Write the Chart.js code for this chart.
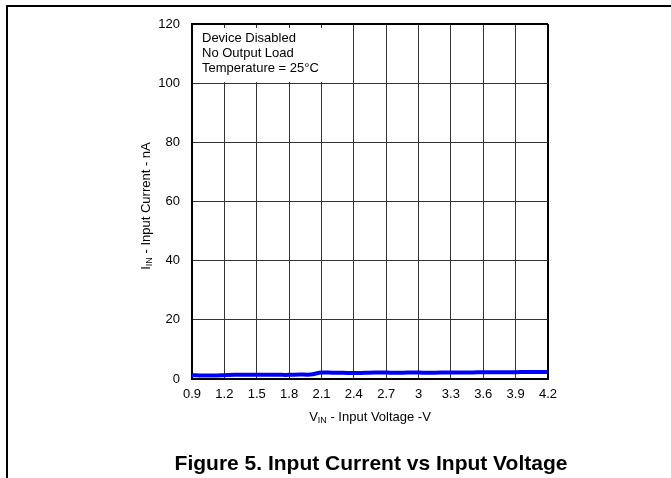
<!DOCTYPE html>
<html>
<head>
<meta charset="utf-8">
<script src="https://cdn.jsdelivr.net/npm/chart.js@4.4.1/dist/chart.umd.min.js"></script>
<style>
  html, body { margin: 0; padding: 0; background: #fff; }
  #wrap { position: relative; width: 671px; height: 478px; }
</style>
</head>
<body>
<div id="wrap"><canvas id="chart" width="671" height="478"></canvas></div>
<script>
// values
const voltage = [0.9, 1.0, 1.1, 1.2, 1.3, 1.4, 1.5, 1.6, 1.7, 1.8, 1.9, 2.0, 2.1, 2.2, 2.3, 2.4, 2.5, 2.6, 2.7, 2.8, 2.9, 3.0, 3.1, 3.2, 3.3, 3.4, 3.5, 3.6, 3.7, 3.8, 3.9, 4.0, 4.1, 4.2];
const current = [1.3, 1.2, 1.2, 1.3, 1.4, 1.4, 1.4, 1.4, 1.4, 1.4, 1.5, 1.5, 2.2, 2.1, 2.1, 2.0, 2.1, 2.2, 2.2, 2.1, 2.2, 2.2, 2.1, 2.2, 2.2, 2.2, 2.2, 2.3, 2.3, 2.3, 2.3, 2.4, 2.4, 2.4];
const xTicks = [0.9, 1.2, 1.5, 1.8, 2.1, 2.4, 2.7, 3.0, 3.3, 3.6, 3.9, 4.2];
const yTicks = [0, 20, 40, 60, 80, 100, 120];
const noteLines = ['Device Disabled', 'No Output Load', 'Temperature = 25°C'];
const caption = 'Figure 5. Input Current vs Input Voltage';

const FONT = '"Liberation Sans", Arial, sans-serif';

// draws "I<sub>IN</sub> - Input Current - nA" style text centred at 0,0
function subText(ctx, main, sub, rest){
  ctx.font = '13px ' + FONT;
  const w1 = ctx.measureText(main).width;
  const w3 = ctx.measureText(rest).width;
  ctx.font = '9px ' + FONT;
  const w2 = ctx.measureText(sub).width;
  let x = -(w1 + w2 + w3) / 2;
  ctx.textAlign = 'left';
  ctx.textBaseline = 'middle';
  ctx.font = '13px ' + FONT;
  ctx.fillText(main, x, 0); x += w1;
  ctx.font = '9px ' + FONT;
  ctx.fillText(sub, x, 4); x += w2;
  ctx.font = '13px ' + FONT;
  ctx.fillText(rest, x, 0);
}

const notePlugin = {
  id: 'note',
  beforeDatasetsDraw(chart){
    const { ctx, chartArea: a } = chart;
    ctx.save();
    ctx.fillStyle = '#fff';
    ctx.fillRect(a.left + 1, a.top + 4, 152, 54);
    ctx.fillStyle = '#000';
    ctx.font = '13px ' + FONT;
    ctx.textAlign = 'left';
    ctx.textBaseline = 'alphabetic';
    noteLines.forEach((t, i) => ctx.fillText(t, a.left + 10, a.top + 18 + i * 15));
    ctx.restore();
  },
  afterDraw(chart){
    const { ctx, chartArea: a } = chart;
    ctx.save();
    ctx.fillStyle = '#000';
    // axis titles with subscripts
    ctx.save();
    ctx.translate((a.left + a.right) / 2, 417);
    subText(ctx, 'V', 'IN', ' - Input Voltage -V');
    ctx.restore();
    ctx.save();
    ctx.translate(146, 206);
    ctx.rotate(-Math.PI / 2);
    subText(ctx, 'I', 'IN', ' - Input Current - nA');
    ctx.restore();
    // caption
    ctx.font = 'bold 21px ' + FONT;
    ctx.textAlign = 'center';
    ctx.textBaseline = 'alphabetic';
    ctx.fillText(caption, 371, 470);
    // page frame
    ctx.strokeStyle = '#000';
    ctx.lineWidth = 2;
    ctx.beginPath();
    ctx.moveTo(671, 6); ctx.lineTo(7, 6); ctx.lineTo(7, 478);
    ctx.stroke();
    ctx.restore();
  }
};

function edgeWidth(c){
  return (c.index === 0 || c.index === c.scale.ticks.length - 1) ? 2 : 1;
}
function edgeColor(c){
  return (c.index === 0 || c.index === c.scale.ticks.length - 1) ? '#000' : '#333';
}

new Chart(document.getElementById('chart').getContext('2d'), {
  type: 'line',
  data: {
    datasets: [{
      data: voltage.map((v, i) => ({ x: v, y: current[i] })),
      borderColor: '#0000ff',
      borderWidth: 4,
      pointRadius: 0,
      tension: 0.3,
      fill: false
    }]
  },
  options: {
    responsive: false,
    animation: false,
    layout: { padding: { top: 24, right: 123, left: 0, bottom: 0 } },
    plugins: { legend: { display: false }, tooltip: { enabled: false } },
    scales: {
      x: {
        type: 'linear', min: 0.9, max: 4.2,
        afterFit(s){ s.height = 99; },
        afterBuildTicks(s){ s.ticks = xTicks.map(v => ({ value: v })); },
        grid: { color: edgeColor, lineWidth: edgeWidth, drawTicks: false },
        border: { color: '#000', width: 2 },
        ticks: { color: '#000', padding: 8, font: { family: FONT, size: 13 }, maxRotation: 0, callback: v => String(v) }
      },
      y: {
        min: 0, max: 120,
        afterFit(s){ s.width = 192; },
        afterBuildTicks(s){ s.ticks = yTicks.map(v => ({ value: v })); },
        grid: { color: edgeColor, lineWidth: edgeWidth, drawTicks: false },
        border: { color: '#000', width: 2 },
        ticks: { color: '#000', padding: 12, font: { family: FONT, size: 13 }, callback: v => String(v) }
      }
    }
  },
  plugins: [notePlugin]
});
</script>
</body>
</html>
